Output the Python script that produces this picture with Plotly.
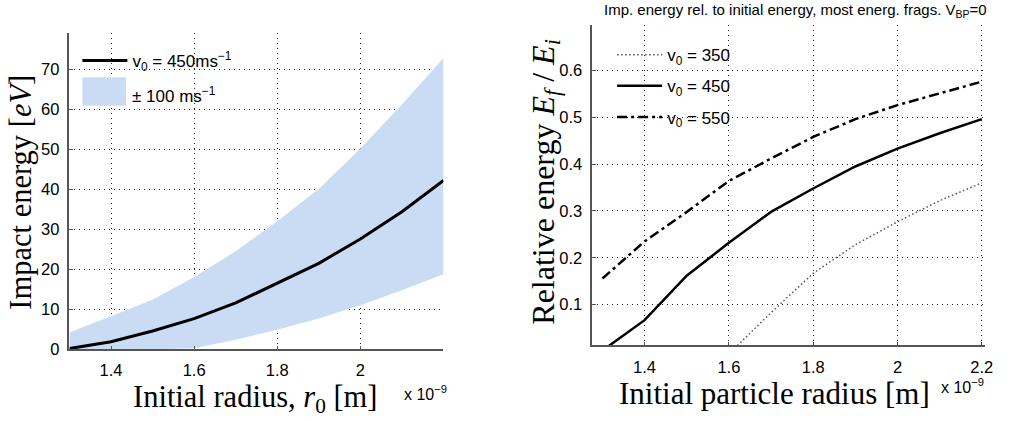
import plotly.graph_objects as go

W, H = 1014, 421

# ---------------- data ----------------
r_left = [1.3, 1.4, 1.5, 1.6, 1.7, 1.8, 1.9, 2.0, 2.1, 2.2]
e_450 = [0.2, 1.9, 4.6, 7.7, 11.6, 16.5, 21.5, 27.6, 34.4, 42.2]
e_upper = [4.2, 8.3, 12.4, 18.1, 24.5, 32.0, 40.1, 50.2, 61.2, 72.8]
e_lower = [0.0, 0.0, 0.0, 0.3, 2.4, 4.9, 7.7, 11.0, 14.8, 18.8]

r_right = [1.3, 1.4, 1.5, 1.6, 1.7, 1.8, 1.9, 2.0, 2.1, 2.2]
rel_450 = [0.002, 0.067, 0.162, 0.232, 0.298, 0.348, 0.395, 0.433, 0.466, 0.496]
rel_550 = [0.156, 0.235, 0.298, 0.364, 0.412, 0.458, 0.496, 0.526, 0.551, 0.576]
r_350 = [1.6, 1.7, 1.8, 1.9, 2.0, 2.1, 2.2]
rel_350 = [-0.005, 0.083, 0.167, 0.228, 0.277, 0.322, 0.360]

left_xticks = [1.4, 1.6, 1.8, 2.0]
left_xticklabels = ["1.4", "1.6", "1.8", "2"]
left_yticks = [0, 10, 20, 30, 40, 50, 60, 70]
right_xticks = [1.4, 1.6, 1.8, 2.0, 2.2]
right_xticklabels = ["1.4", "1.6", "1.8", "2", "2.2"]
right_yticks = [0.1, 0.2, 0.3, 0.4, 0.5, 0.6]

BAND = "#cadcf4"
SANS = "Liberation Sans, Arial, sans-serif"
SERIF = "Liberation Serif, Times New Roman, serif"


def px_x(p):
    return p / W


def px_y(p):
    return 1 - p / H


fig = go.Figure()

# left panel
fig.add_trace(go.Scatter(x=r_left, y=e_lower, mode="lines", line=dict(width=0, color=BAND),
                         showlegend=False, hoverinfo="skip", xaxis="x", yaxis="y"))
fig.add_trace(go.Scatter(x=r_left, y=e_upper, mode="lines", line=dict(width=0, color=BAND),
                         fill="tonexty", fillcolor=BAND, name="± 100 ms<sup>−1</sup>",
                         showlegend=False, xaxis="x", yaxis="y"))
fig.add_trace(go.Scatter(x=r_left, y=e_450, mode="lines", line=dict(width=3, color="black"),
                         name="v<sub>0</sub> = 450ms<sup>−1</sup>", xaxis="x", yaxis="y",
                         legend="legend"))

# right panel
fig.add_trace(go.Scatter(x=r_350, y=rel_350, mode="lines",
                         line=dict(width=1.5, color="#555", dash="1.5px,2.5px"),
                         name="v<sub>0</sub> = 350", xaxis="x2", yaxis="y2", legend="legend2",
                         legendgroup="a"))
fig.add_trace(go.Scatter(x=r_right, y=rel_450, mode="lines", line=dict(width=2.5, color="black"),
                         name="v<sub>0</sub> = 450", xaxis="x2", yaxis="y2", legend="legend2",
                         legendgroup="b"))
fig.add_trace(go.Scatter(x=r_right, y=rel_550, mode="lines",
                         line=dict(width=2.5, color="black", dash="10px,4px,3px,4px"),
                         name="v<sub>0</sub> = 550", xaxis="x2", yaxis="y2", legend="legend2",
                         legendgroup="c"))

axis_common = dict(showgrid=True, gridcolor="#222", griddash="1px,4px", gridwidth=1,
                   zeroline=False, showline=True, linecolor="#555", linewidth=1.5,
                   ticks="inside", ticklen=4, tickcolor="#555",
                   tickfont=dict(family=SANS, size=16.5, color="black"))

fig.update_layout(
    width=W, height=H, margin=dict(l=0, r=0, t=0, b=0),
    paper_bgcolor="white", plot_bgcolor="white",
    xaxis=dict(domain=[px_x(70), px_x(447)], range=[1.3, 2.2], tickvals=left_xticks,
               ticktext=left_xticklabels, anchor="y", ticklabelstandoff=5, **axis_common),
    yaxis=dict(domain=[px_y(357), px_y(34)], range=[0, 79], tickvals=left_yticks,
               anchor="x", ticklabelstandoff=5, **axis_common),
    xaxis2=dict(domain=[px_x(597), px_x(993)], range=[1.276, 2.208], tickvals=right_xticks,
                ticktext=right_xticklabels, anchor="y2", ticklabelstandoff=6, **axis_common),
    yaxis2=dict(domain=[px_y(353), px_y(26)], range=[0.013, 0.696], tickvals=right_yticks,
                anchor="x2", ticklabelstandoff=5, **axis_common),
    legend=dict(x=px_x(78), y=px_y(44), xanchor="left", yanchor="top",
                bgcolor="rgba(0,0,0,0)", font=dict(family=SANS, size=17, color="black"),
                itemwidth=45),
    legend2=dict(x=px_x(617), y=px_y(38), xanchor="left", yanchor="top",
                 bgcolor="rgba(0,0,0,0)", font=dict(family=SANS, size=17, color="black"),
                 itemwidth=45, tracegroupgap=6),
    showlegend=True,
)

# legend patch for the ±100 band (legend decoration)
fig.add_shape(type="rect", xref="paper", yref="paper",
              x0=px_x(83), x1=px_x(127), y0=px_y(108), y1=px_y(79),
              fillcolor=BAND, line=dict(width=0))

ann = [
    dict(text="± 100 ms<sup>−1</sup>", x=px_x(131), y=px_y(97), xanchor="left",
         font=dict(family=SANS, size=17, color="black")),
    dict(text="Initial radius, <i>r</i><sub>0</sub> [m]", x=px_x(257), y=px_y(408),
         font=dict(family=SERIF, size=30.5, color="black")),
    dict(text="x 10<sup>−9</sup>", x=px_x(429), y=px_y(402),
         font=dict(family=SANS, size=16, color="black")),
    dict(text="Impact energy [<i>eV</i>]", x=px_x(21), y=px_y(196), textangle=-90,
         font=dict(family=SERIF, size=30.5, color="black")),
    dict(text="Initial particle radius [m]", x=px_x(781), y=px_y(402),
         font=dict(family=SERIF, size=31, color="black")),
    dict(text="x 10<sup>−9</sup>", x=px_x(970), y=px_y(394),
         font=dict(family=SANS, size=16, color="black")),
    dict(text="Relative energy <i>E<sub>f</sub></i> / <i>E<sub>i</sub></i>", x=px_x(549), y=px_y(186),
         textangle=-90, font=dict(family=SERIF, size=32, color="black")),
    dict(text="Imp. energy rel. to initial energy, most energ. frags. V<sub>BP</sub>=0",
         x=px_x(997), y=px_y(11), xanchor="right",
         font=dict(family=SANS, size=15, color="black")),
]
for a in ann:
    a.setdefault("xanchor", "center")
    a.update(xref="paper", yref="paper", yanchor="middle", showarrow=False)
fig.update_layout(annotations=ann)

fig.write_html("out.html")
